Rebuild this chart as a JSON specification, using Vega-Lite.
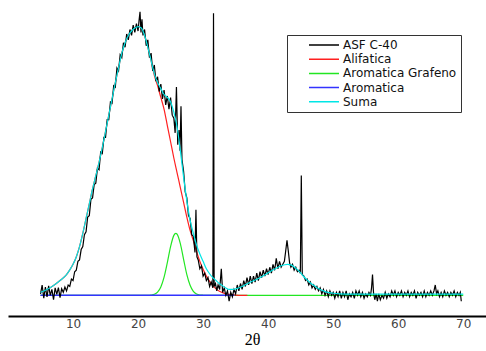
{
  "$schema": "https://vega.github.io/schema/vega-lite/v6.json",
  "width": 478,
  "height": 316,
  "autosize": "none",
  "padding": {"left": 8, "top": 0, "right": 0, "bottom": 35},
  "background": "white",
  "config": {
    "view": {"stroke": null},
    "legend": {
      "orient": "none",
      "legendX": 279,
      "legendY": 35,
      "strokeColor": "#333333",
      "fillColor": "white",
      "padding": 4,
      "symbolType": "stroke",
      "symbolSize": 900,
      "symbolStrokeWidth": 1.5,
      "symbolOffset": 17,
      "clipHeight": 12,
      "labelFont": "DejaVu Sans",
      "labelFontSize": 12,
      "labelColor": "#111111",
      "labelOffset": 3,
      "rowPadding": 2.2
    }
  },
  "datasets": {
    "asf": [
      {"x":5.0,"y":0.5},{"x":5.25,"y":3.5},{"x":5.5,"y":-1.0},{"x":5.75,"y":2.8},{"x":6.0,"y":-0.5},{"x":6.25,"y":3.2},{"x":6.5,"y":0.0},{"x":6.75,"y":2.0},{"x":7.0,"y":-1.5},{"x":7.25,"y":2.5},{"x":7.5,"y":0.3},{"x":7.75,"y":2.6},{"x":8.0,"y":-0.8},{"x":8.25,"y":2.2},{"x":8.5,"y":1.0},{"x":8.75,"y":2.8},{"x":9.0,"y":1.5},{"x":9.25,"y":3.5},{"x":9.5,"y":3.0},{"x":9.75,"y":5.5},
      {"x":10.0,"y":5.0},{"x":10.25,"y":8.0},{"x":10.5,"y":8.5},{"x":10.75,"y":11.5},{"x":11.0,"y":12.0},{"x":11.25,"y":15.5},{"x":11.5,"y":16.5},{"x":11.75,"y":20.5},{"x":12.0,"y":21.5},{"x":12.25,"y":26.5},{"x":12.5,"y":27.0},{"x":12.75,"y":32.5},{"x":13.0,"y":33.0},{"x":13.25,"y":37.5},{"x":13.5,"y":38.0},{"x":13.75,"y":43.0},{"x":14.0,"y":42.5},{"x":14.25,"y":48.5},{"x":14.5,"y":48.0},{"x":14.75,"y":53.5},
      {"x":15.0,"y":53.5},{"x":15.25,"y":59.5},{"x":15.5,"y":59.5},{"x":15.75,"y":65.5},{"x":16.0,"y":65.0},{"x":16.25,"y":71.0},{"x":16.5,"y":70.5},{"x":16.75,"y":77.0},{"x":17.0,"y":76.0},{"x":17.25,"y":81.5},{"x":17.5,"y":80.5},{"x":17.75,"y":85.5},{"x":18.0,"y":84.0},{"x":18.25,"y":88.5},{"x":18.5,"y":86.5},{"x":18.75,"y":90.0},{"x":19.0,"y":88.0},{"x":19.25,"y":91.5},{"x":19.5,"y":89.0},{"x":19.75,"y":92.0},
      {"x":20.0,"y":89.5},{"x":20.15,"y":93.0},{"x":20.3,"y":96.0},{"x":20.45,"y":89.0},{"x":20.6,"y":93.5},{"x":20.75,"y":88.0},{"x":21.0,"y":90.0},{"x":21.25,"y":84.5},{"x":21.5,"y":86.5},{"x":21.75,"y":80.5},{"x":22.0,"y":82.0},{"x":22.25,"y":76.0},{"x":22.5,"y":78.0},{"x":22.75,"y":72.5},{"x":23.0,"y":74.0},{"x":23.25,"y":69.0},{"x":23.5,"y":71.5},{"x":23.75,"y":66.5},{"x":24.0,"y":69.5},{"x":24.25,"y":64.5},{"x":24.5,"y":67.5},{"x":24.75,"y":63.0},
      {"x":25.0,"y":67.0},{"x":25.25,"y":61.0},{"x":25.5,"y":60.0},{"x":25.7,"y":55.0},{"x":25.9,"y":70.5},{"x":26.1,"y":51.0},{"x":26.3,"y":56.0},{"x":26.45,"y":49.0},{"x":26.6,"y":64.0},{"x":26.75,"y":46.0},{"x":27.0,"y":42.0},{"x":27.25,"y":35.0},{"x":27.5,"y":33.0},{"x":27.75,"y":27.0},{"x":28.0,"y":26.0},{"x":28.25,"y":20.5},{"x":28.5,"y":20.0},{"x":28.75,"y":14.5},{"x":28.9,"y":29.0},{"x":29.05,"y":13.0},{"x":29.25,"y":12.0},{"x":29.5,"y":9.0},{"x":29.75,"y":10.0},
      {"x":30.0,"y":6.5},{"x":30.25,"y":7.5},{"x":30.5,"y":5.0},{"x":30.75,"y":6.0},{"x":31.0,"y":3.0},{"x":31.25,"y":4.5},{"x":31.5,"y":2.5},{"x":31.6,"y":95.5},{"x":31.7,"y":3.0},{"x":31.9,"y":4.0},{"x":32.1,"y":1.5},{"x":32.3,"y":3.5},{"x":32.55,"y":2.0},{"x":32.8,"y":9.0},{"x":33.0,"y":1.0},{"x":33.25,"y":2.5},{"x":33.5,"y":0.0},{"x":33.75,"y":1.5},{"x":34.0,"y":-2.0},{"x":34.25,"y":1.0},{"x":34.5,"y":-0.5},{"x":34.75,"y":2.0},
      {"x":35.0,"y":0.5},{"x":35.25,"y":3.5},{"x":35.5,"y":1.5},{"x":35.75,"y":4.0},{"x":36.0,"y":2.0},{"x":36.25,"y":5.0},{"x":36.5,"y":3.0},{"x":36.75,"y":6.0},{"x":37.0,"y":3.5},{"x":37.25,"y":6.5},{"x":37.5,"y":4.0},{"x":37.75,"y":6.5},{"x":38.0,"y":4.5},{"x":38.25,"y":7.5},{"x":38.5,"y":5.0},{"x":38.75,"y":8.0},{"x":39.0,"y":6.0},{"x":39.25,"y":8.5},{"x":39.5,"y":6.5},{"x":39.75,"y":9.0},
      {"x":40.0,"y":7.0},{"x":40.25,"y":9.5},{"x":40.5,"y":7.5},{"x":40.75,"y":10.5},{"x":41.0,"y":8.5},{"x":41.25,"y":12.5},{"x":41.5,"y":9.0},{"x":41.75,"y":11.5},{"x":42.0,"y":9.5},{"x":42.25,"y":10.5},{"x":42.5,"y":11.5},{"x":42.7,"y":15.0},{"x":42.9,"y":18.6},{"x":43.1,"y":15.0},{"x":43.3,"y":11.0},{"x":43.5,"y":9.5},{"x":43.75,"y":10.5},{"x":44.0,"y":8.5},{"x":44.25,"y":9.5},{"x":44.5,"y":8.0},{"x":44.75,"y":8.5},{"x":44.95,"y":7.5},{"x":45.1,"y":40.6},{"x":45.25,"y":7.0},{"x":45.5,"y":6.5},{"x":45.75,"y":5.0},
      {"x":46.0,"y":5.5},{"x":46.25,"y":3.5},{"x":46.5,"y":4.5},{"x":46.75,"y":2.5},{"x":47.0,"y":3.5},{"x":47.25,"y":2.0},{"x":47.5,"y":3.0},{"x":47.75,"y":1.5},{"x":48.0,"y":2.5},{"x":48.25,"y":0.5},{"x":48.5,"y":2.0},{"x":48.75,"y":0.0},{"x":49.0,"y":1.5},{"x":49.25,"y":-0.5},{"x":49.5,"y":1.5},{"x":49.75,"y":0.0},
      {"x":50.0,"y":1.0},{"x":50.25,"y":-1.0},{"x":50.5,"y":1.0},{"x":50.75,"y":-0.5},{"x":51.0,"y":1.5},{"x":51.25,"y":-1.0},{"x":51.5,"y":1.0},{"x":51.75,"y":-0.5},{"x":52.0,"y":1.5},{"x":52.25,"y":-1.5},{"x":52.5,"y":0.5},{"x":52.75,"y":-0.5},{"x":53.0,"y":1.0},{"x":53.25,"y":-1.0},{"x":53.5,"y":1.5},{"x":53.75,"y":0.0},{"x":54.0,"y":1.5},{"x":54.25,"y":-0.5},{"x":54.5,"y":1.0},{"x":54.75,"y":-1.0},
      {"x":55.0,"y":0.5},{"x":55.25,"y":-0.5},{"x":55.5,"y":1.0},{"x":55.75,"y":0.0},{"x":55.9,"y":2.5},{"x":56.05,"y":7.0},{"x":56.2,"y":1.0},{"x":56.4,"y":-1.5},{"x":56.6,"y":0.5},{"x":56.8,"y":-2.0},{"x":57.0,"y":0.5},{"x":57.25,"y":-1.5},{"x":57.5,"y":0.0},{"x":57.75,"y":-1.0},{"x":58.0,"y":1.0},{"x":58.25,"y":-1.0},{"x":58.5,"y":0.5},{"x":58.75,"y":-0.5},{"x":59.0,"y":1.5},{"x":59.25,"y":0.0},{"x":59.5,"y":1.5},{"x":59.75,"y":-0.5},
      {"x":60.0,"y":1.0},{"x":60.25,"y":0.0},{"x":60.5,"y":1.5},{"x":60.75,"y":-0.5},{"x":61.0,"y":1.0},{"x":61.25,"y":0.0},{"x":61.5,"y":1.5},{"x":61.75,"y":-0.5},{"x":62.0,"y":1.0},{"x":62.25,"y":0.0},{"x":62.5,"y":1.5},{"x":62.75,"y":-1.0},{"x":63.0,"y":1.0},{"x":63.25,"y":0.0},{"x":63.5,"y":1.0},{"x":63.75,"y":-0.5},{"x":64.0,"y":1.5},{"x":64.25,"y":-0.5},{"x":64.5,"y":1.0},{"x":64.75,"y":0.0},
      {"x":65.0,"y":1.5},{"x":65.25,"y":0.0},{"x":65.5,"y":1.5},{"x":65.7,"y":3.5},{"x":65.9,"y":0.5},{"x":66.1,"y":1.5},{"x":66.35,"y":-0.5},{"x":66.6,"y":1.0},{"x":66.85,"y":-0.5},{"x":67.1,"y":1.5},{"x":67.35,"y":0.0},{"x":67.6,"y":1.0},{"x":67.85,"y":-0.5},{"x":68.1,"y":1.0},{"x":68.35,"y":0.0},{"x":68.6,"y":1.5},{"x":68.85,"y":-0.5},{"x":69.1,"y":1.0},{"x":69.35,"y":0.0},{"x":69.55,"y":1.0},{"x":69.7,"y":-2.0}
    ],
    "suma": [
      {"x":5,"y":1},{"x":6,"y":2},{"x":7,"y":3.3},{"x":8,"y":5},{"x":9,"y":7},{"x":9.5,"y":8.6},{"x":10,"y":10.5},{"x":10.5,"y":13},{"x":11,"y":16.5},{"x":11.5,"y":21},{"x":12,"y":26},{"x":12.5,"y":31},{"x":13,"y":36},{"x":13.5,"y":40.5},{"x":14,"y":45},{"x":14.5,"y":50},{"x":15,"y":55.5},{"x":15.5,"y":61},{"x":16,"y":66.5},{"x":16.5,"y":72},{"x":17,"y":77},{"x":17.5,"y":82},{"x":18,"y":85.5},{"x":18.5,"y":88},{"x":19,"y":89.5},{"x":19.5,"y":90.5},{"x":20,"y":91},{"x":20.5,"y":90.5},{"x":21,"y":88},{"x":21.5,"y":84},{"x":22,"y":79.5},{"x":22.5,"y":75},{"x":23,"y":72},{"x":23.5,"y":70},{"x":24,"y":68},{"x":24.5,"y":67},{"x":25,"y":65.5},{"x":25.5,"y":62},{"x":26,"y":57},{"x":26.5,"y":49},{"x":27,"y":40},{"x":27.5,"y":32},{"x":28,"y":25.5},{"x":28.5,"y":21},{"x":29,"y":17},{"x":29.5,"y":14},{"x":30,"y":11.5},{"x":30.5,"y":9},{"x":31,"y":7.3},{"x":31.5,"y":6},{"x":32,"y":5},{"x":32.5,"y":4},{"x":33,"y":3.2},{"x":33.5,"y":2.5},{"x":34,"y":2},{"x":34.5,"y":2},{"x":35,"y":2.2},{"x":36,"y":3},{"x":37,"y":4.2},{"x":38,"y":5.2},{"x":39,"y":6.3},{"x":40,"y":7.6},{"x":41,"y":8.9},{"x":42,"y":10},{"x":43,"y":10.5},{"x":43.5,"y":10.3},{"x":44,"y":9.6},{"x":44.5,"y":8.7},{"x":45,"y":7.6},{"x":45.5,"y":6.3},{"x":46,"y":5.2},{"x":46.5,"y":4.2},{"x":47,"y":3.4},{"x":47.5,"y":2.6},{"x":48,"y":2},{"x":48.5,"y":1.5},{"x":49,"y":1.1},{"x":50,"y":0.7},{"x":51,"y":0.5},{"x":53,"y":0.4},{"x":70,"y":0.4}
    ],
    "ali": [
      {"x":5,"y":1},{"x":6,"y":2},{"x":7,"y":3.3},{"x":8,"y":5},{"x":9,"y":7},{"x":9.5,"y":8.6},{"x":10,"y":10.5},{"x":10.5,"y":13},{"x":11,"y":16.5},{"x":11.5,"y":21},{"x":12,"y":26},{"x":12.5,"y":31},{"x":13,"y":36},{"x":13.5,"y":40.5},{"x":14,"y":45},{"x":14.5,"y":50},{"x":15,"y":55.5},{"x":15.5,"y":61},{"x":16,"y":66.5},{"x":16.5,"y":72},{"x":17,"y":77},{"x":17.5,"y":82},{"x":18,"y":85.5},{"x":18.5,"y":88},{"x":19,"y":89.5},{"x":19.5,"y":90.5},{"x":20,"y":91},{"x":20.5,"y":90.5},{"x":21,"y":88},{"x":21.5,"y":84},{"x":22,"y":79.5},{"x":22.5,"y":74.5},{"x":23,"y":71},{"x":23.5,"y":67},{"x":24,"y":63},{"x":24.5,"y":57.5},{"x":25,"y":52},{"x":25.5,"y":46.5},{"x":26,"y":41.5},{"x":26.5,"y":36.5},{"x":27,"y":31.5},{"x":27.5,"y":26.5},{"x":28,"y":22},{"x":28.5,"y":18.5},{"x":29,"y":14.8},{"x":29.5,"y":11.5},{"x":30,"y":8.8},{"x":30.5,"y":6.5},{"x":31,"y":4.7},{"x":31.5,"y":3.3},{"x":32,"y":2.2},{"x":32.5,"y":1.4},{"x":33,"y":0.9},{"x":33.5,"y":0.5},{"x":34,"y":0.3},{"x":35,"y":0.1},{"x":36,"y":0},{"x":36.8,"y":0}
    ],
    "graf": [
      {"x":5,"y":0},{"x":21.5,"y":0},{"x":22,"y":0.09},{"x":22.5,"y":0.34},{"x":23,"y":1.09},{"x":23.5,"y":2.84},{"x":24,"y":6.17},{"x":24.5,"y":11.1},{"x":25,"y":16.5},{"x":25.5,"y":20.3},{"x":25.8,"y":21},{"x":26,"y":20.7},{"x":26.5,"y":17.5},{"x":27,"y":12.2},{"x":27.5,"y":7.0},{"x":28,"y":3.4},{"x":28.5,"y":1.33},{"x":29,"y":0.44},{"x":29.5,"y":0.12},{"x":30,"y":0.03},{"x":30.5,"y":0},{"x":70,"y":0}
    ],
    "arom": [
      {"x":5,"y":0},{"x":34.8,"y":0}
    ]
  },
  "encoding": {
    "x": {
      "field": "x", "type": "quantitative",
      "scale": {"domain": [0, 73.5], "nice": false, "zero": false},
      "axis": {
        "title": "2θ",
        "values": [10, 20, 30, 40, 50, 60, 70],
        "ticks": false,
        "grid": false,
        "domainColor": "#000000",
        "domainWidth": 2,
        "labelFont": "DejaVu Sans",
        "labelFontSize": 12,
        "labelColor": "#444444",
        "labelPadding": 2,
        "titleFont": "Liberation Serif",
        "titleFontSize": 16,
        "titleFontWeight": "normal",
        "titleColor": "#000000",
        "titlePadding": 2,
        "titleX": 244,
        "titleAlign": "center"
      }
    },
    "y": {
      "field": "y", "type": "quantitative",
      "scale": {"domain": [-7, 100], "nice": false, "zero": false},
      "axis": null
    },
    "color": {
      "field": "s",
      "type": "nominal",
      "scale": {
        "domain": ["ASF C-40", "Alifatica", "Aromatica Grafeno", "Aromatica", "Suma"],
        "range": ["#000000", "#ff2020", "#22e622", "#3333ff", "#00e6e6"]
      },
      "legend": {"title": null}
    }
  },
  "layer": [
    {
      "data": {"name": "graf"},
      "transform": [{"calculate": "'Aromatica Grafeno'", "as": "s"}],
      "mark": {"type": "line", "strokeWidth": 1.2, "interpolate": "monotone"}
    },
    {
      "data": {"name": "ali"},
      "transform": [{"calculate": "'Alifatica'", "as": "s"}],
      "mark": {"type": "line", "strokeWidth": 1.2, "interpolate": "monotone"}
    },
    {
      "data": {"name": "arom"},
      "transform": [{"calculate": "'Aromatica'", "as": "s"}],
      "mark": {"type": "line", "strokeWidth": 1.5}
    },
    {
      "data": {"name": "asf"},
      "transform": [{"calculate": "'ASF C-40'", "as": "s"}],
      "mark": {"type": "line", "strokeWidth": 1.2}
    },
    {
      "data": {"name": "suma"},
      "transform": [{"calculate": "'Suma'", "as": "s"}],
      "mark": {"type": "line", "strokeWidth": 1.2, "interpolate": "monotone"}
    }
  ]
}
